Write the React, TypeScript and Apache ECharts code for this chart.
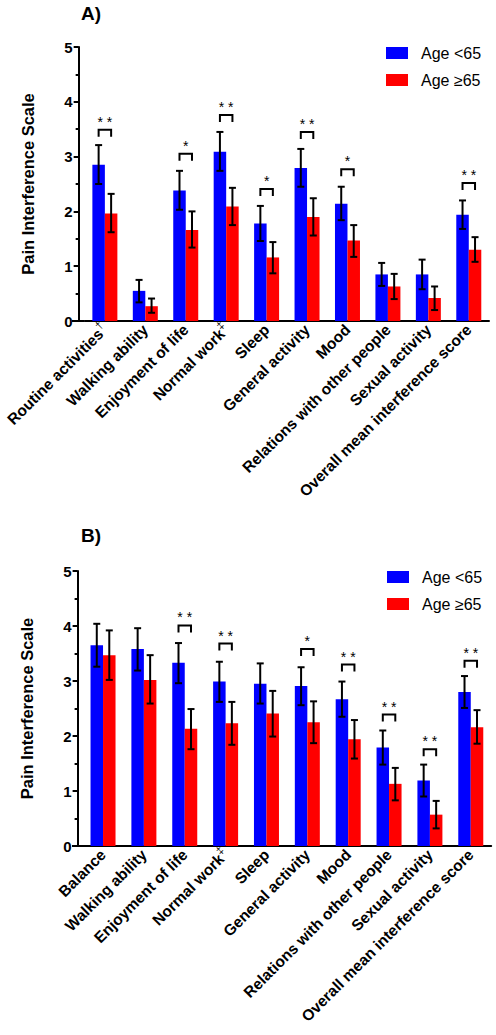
import React, { useEffect, useRef } from "react";
import * as echarts from "echarts";

const FONT = "'Liberation Sans', Arial, sans-serif";
const BLUE = "#0000FF";
const RED = "#FF0000";
const SERIES_NAMES = ["Age <65", "Age \u226565"];

const categoriesA = [
  "Routine activities\u2020",
  "Walking ability",
  "Enjoyment of life",
  "Normal work\u2021",
  "Sleep",
  "General activity",
  "Mood",
  "Relations with other people",
  "Sexual activity",
  "Overall mean interference score",
];
const youngA = [2.85, 0.55, 2.38, 3.09, 1.78, 2.79, 2.14, 0.85, 0.85, 1.94];
const youngHiA = [3.21, 0.75, 2.74, 3.45, 2.1, 3.14, 2.45, 1.06, 1.12, 2.2];
const youngLoA = [2.5, 0.34, 2.03, 2.74, 1.46, 2.45, 1.84, 0.64, 0.58, 1.68];
const oldA = [1.96, 0.27, 1.66, 2.09, 1.16, 1.9, 1.47, 0.63, 0.42, 1.3];
const oldHiA = [2.32, 0.41, 2.0, 2.43, 1.44, 2.24, 1.75, 0.86, 0.63, 1.53];
const oldLoA = [1.62, 0.15, 1.34, 1.75, 0.87, 1.56, 1.17, 0.4, 0.2, 1.08];
const sigCatA = [0, 2, 3, 4, 5, 6, 9];
const sigYA = [3.49, 3.05, 3.76, 2.41, 3.45, 2.77, 2.52];
const sigLabelA = ["**", "*", "**", "*", "**", "*", "**"];

const categoriesB = [
  "Balance",
  "Walking ability",
  "Enjoyment of life",
  "Normal work\u2021",
  "Sleep",
  "General activity",
  "Mood",
  "Relations with other people",
  "Sexual activity",
  "Overall mean interference score",
];
const youngB = [3.65, 3.58, 3.33, 2.99, 2.95, 2.91, 2.67, 1.79, 1.19, 2.8];
const youngHiB = [4.04, 3.96, 3.69, 3.35, 3.32, 3.25, 2.99, 2.1, 1.48, 3.09];
const youngLoB = [3.26, 3.19, 2.96, 2.62, 2.59, 2.56, 2.35, 1.48, 0.9, 2.51];
const oldB = [3.47, 3.02, 2.13, 2.23, 2.41, 2.25, 1.94, 1.13, 0.57, 2.16];
const oldHiB = [3.92, 3.47, 2.49, 2.62, 2.82, 2.63, 2.29, 1.42, 0.82, 2.47];
const oldLoB = [3.02, 2.59, 1.76, 1.84, 1.99, 1.87, 1.59, 0.83, 0.32, 1.86];
const sigCatB = [2, 3, 5, 6, 7, 8, 9];
const sigYB = [4.01, 3.68, 3.58, 3.3, 2.39, 1.76, 3.37];
const sigLabelB = ["**", "**", "*", "**", "**", "**", "**"];

const yTicks = [0, 1, 2, 3, 4, 5];

const BAR_W = 12.5;

function labelFormatter(v: string) {
  const last = v.slice(-1);
  if (last === "\u2020" || last === "\u2021") {
    return `{a|${v.slice(0, -1)}}{s|${last}}`;
  }
  return `{a|${v}}`;
}

function errorSeries(gi: number, lo: number[], hi: number[], offset: number) {
  return {
    type: "custom",
    xAxisIndex: gi,
    yAxisIndex: gi,
    z: 5,
    silent: true,
    encode: { x: 0, y: [1, 2] },
    data: lo.map((l, i) => [i, l, hi[i]]),
    renderItem: (params: any, api: any) => {
      const c = api.value(0);
      const pLo = api.coord([c, api.value(1)]);
      const pHi = api.coord([c, api.value(2)]);
      const x = pLo[0] + offset;
      const st = { stroke: "#000", lineWidth: 2 };
      return {
        type: "group",
        children: [
          { type: "line", shape: { x1: x, y1: pHi[1], x2: x, y2: pLo[1] }, style: st },
          { type: "line", shape: { x1: x - 3.5, y1: pHi[1], x2: x + 3.5, y2: pHi[1] }, style: st },
          { type: "line", shape: { x1: x - 3.5, y1: pLo[1], x2: x + 3.5, y2: pLo[1] }, style: st },
        ],
      };
    },
  };
}

function sigSeries(gi: number, cats: number[], ys: number[], labels: string[]) {
  return {
    type: "custom",
    xAxisIndex: gi,
    yAxisIndex: gi,
    z: 6,
    silent: true,
    encode: { x: 0, y: 1 },
    data: cats.map((c, i) => [c, ys[i]]),
    renderItem: (params: any, api: any) => {
      const p = api.coord([api.value(0), api.value(1)]);
      const x1 = p[0] - BAR_W / 2;
      const x2 = p[0] + BAR_W / 2;
      const t = p[1];
      const lab = labels[params.dataIndex].split("").join(" ");
      return {
        type: "group",
        children: [
          {
            type: "polyline",
            shape: { points: [[x1, t + 7], [x1, t], [x2, t], [x2, t + 7]] },
            style: { stroke: "#000", lineWidth: 2, fill: null },
          },
          {
            type: "text",
            x: p[0],
            y: t - 1,
            style: {
              text: lab,
              textAlign: "center",
              textVerticalAlign: "bottom",
              fontSize: 14,
              fontFamily: FONT,
              fill: "#000",
            },
          },
        ],
      };
    },
  };
}

function xAxisCfg(gi: number, cats: string[]) {
  return {
    type: "category",
    gridIndex: gi,
    data: cats,
    axisLine: { lineStyle: { color: "#000", width: 2 } },
    axisTick: { alignWithLabel: true, length: 5, lineStyle: { color: "#000", width: 2 } },
    axisLabel: {
      rotate: 45,
      interval: 0,
      margin: 6,
      color: "#000",
      formatter: labelFormatter,
      rich: {
        a: { fontSize: 15.5, fontWeight: "bold", fontFamily: FONT, color: "#000" },
        s: { fontSize: 11, fontFamily: FONT, color: "#000", padding: [0, 0, 11, 0] },
      },
    },
  };
}

function yAxisCfg(gi: number, offset: number) {
  return {
    type: "value",
    gridIndex: gi,
    min: yTicks[0],
    max: yTicks[yTicks.length - 1],
    interval: 1,
    offset,
    name: "Pain Interference Scale",
    nameLocation: "middle",
    nameGap: 42,
    nameTextStyle: { fontSize: 16.5, fontWeight: "bold", fontFamily: FONT, color: "#000" },
    axisLine: { show: true, lineStyle: { color: "#000", width: 2 } },
    axisTick: { show: true, length: 5, lineStyle: { color: "#000", width: 2 } },
    minorTick: { show: true, splitNumber: 2, length: 3, lineStyle: { color: "#000", width: 2 } },
    splitLine: { show: false },
    axisLabel: { fontSize: 15, fontWeight: "bold", fontFamily: FONT, color: "#000", margin: 6 },
  };
}

function barSeries(gi: number, name: string, data: number[], color: string) {
  return {
    type: "bar",
    name,
    xAxisIndex: gi,
    yAxisIndex: gi,
    data,
    barWidth: BAR_W,
    barGap: "0%",
    itemStyle: { color },
  };
}

function legendCfg(left: number, top: number) {
  return {
    left,
    top,
    orient: "vertical",
    padding: 0,
    icon: "rect",
    itemWidth: 22,
    itemHeight: 12,
    itemGap: 11,
    selectedMode: false,
    data: SERIES_NAMES,
    textStyle: { fontSize: 16, fontFamily: FONT, color: "#000", padding: [0, 0, 0, 8] },
  };
}

export default function App() {
  const ref = useRef<HTMLDivElement>(null);
  useEffect(() => {
    if (!ref.current) return;
    const chart = echarts.init(ref.current, null, { renderer: "svg", width: 496, height: 1035 });
    const option: any = {
      animation: false,
      backgroundColor: "#fff",
      title: [
        { text: "A)", left: 81, top: 4, padding: 0, textStyle: { fontSize: 19, fontWeight: "bold", fontFamily: FONT, color: "#000" } },
        { text: "B)", left: 81, top: 526, padding: 0, textStyle: { fontSize: 19, fontWeight: "bold", fontFamily: FONT, color: "#000" } },
      ],
      legend: [legendCfg(386, 45), legendCfg(387, 569)],
      grid: [
        { left: 82.7, top: 47, width: 406.3, height: 274 },
        { left: 82.6, top: 571, width: 408.6, height: 275 },
      ],
      xAxis: [xAxisCfg(0, categoriesA), xAxisCfg(1, categoriesB)],
      yAxis: [yAxisCfg(0, 6), yAxisCfg(1, 5)],
      graphic: [
        { type: "line", shape: { x1: 72, y1: 321, x2: 84, y2: 321 }, style: { stroke: "#000", lineWidth: 2 } },
        { type: "line", shape: { x1: 72, y1: 846, x2: 84, y2: 846 }, style: { stroke: "#000", lineWidth: 2 } },
      ],
      series: [
        barSeries(0, SERIES_NAMES[0], youngA, BLUE),
        barSeries(0, SERIES_NAMES[1], oldA, RED),
        errorSeries(0, youngLoA, youngHiA, -BAR_W / 2),
        errorSeries(0, oldLoA, oldHiA, BAR_W / 2),
        sigSeries(0, sigCatA, sigYA, sigLabelA),
        barSeries(1, SERIES_NAMES[0], youngB, BLUE),
        barSeries(1, SERIES_NAMES[1], oldB, RED),
        errorSeries(1, youngLoB, youngHiB, -BAR_W / 2),
        errorSeries(1, oldLoB, oldHiB, BAR_W / 2),
        sigSeries(1, sigCatB, sigYB, sigLabelB),
      ],
    };
    chart.setOption(option);
    return () => chart.dispose();
  }, []);
  return (
    <div
      ref={ref}
      style={{ position: "absolute", left: 0, top: 0, width: 496, height: 1035, background: "#fff" }}
    />
  );
}
